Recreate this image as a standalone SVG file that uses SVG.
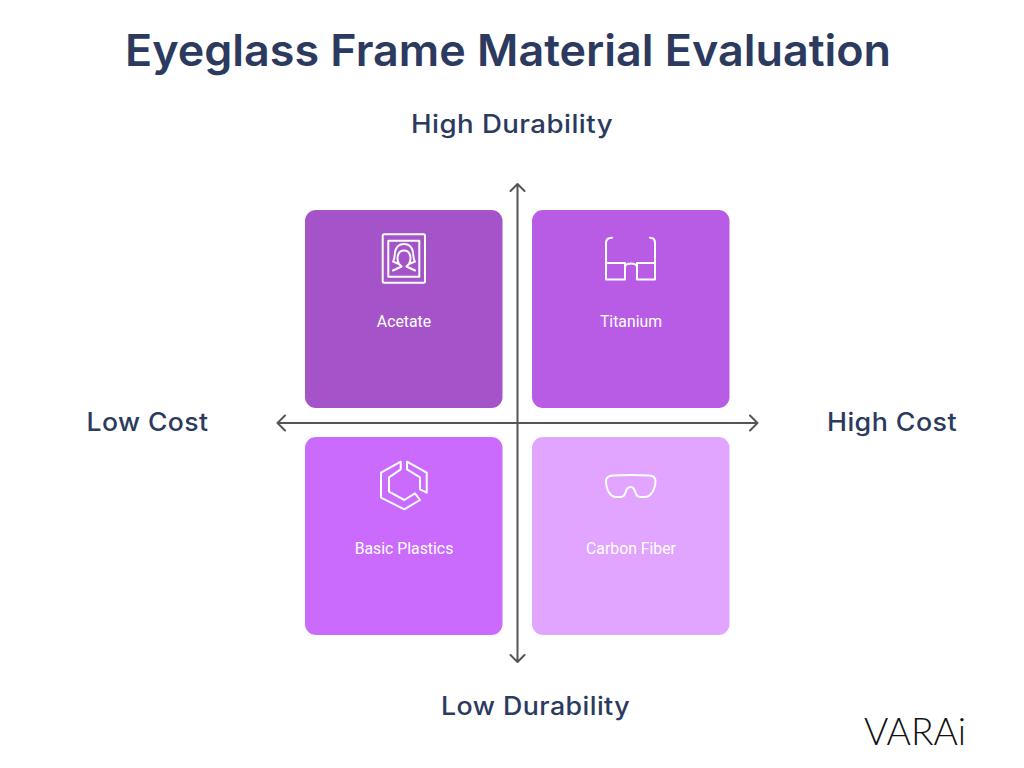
<svg xmlns="http://www.w3.org/2000/svg" width="1024" height="768" viewBox="0 0 1024 768">
<defs>
<style>
.h{font-family:"Inter","Liberation Sans",sans-serif;font-weight:550;fill:#2b3a5e;text-anchor:middle}
.t{font-weight:600}
.a{font-size:25px;letter-spacing:.4px}
.l{font-family:"Roboto","Liberation Sans",sans-serif;font-size:15.800px;fill:#fff;text-anchor:middle}
.i{fill:none;stroke:#fff;stroke-width:2;stroke-linejoin:round;stroke-linecap:round}
.ax{fill:none;stroke:#555;stroke-width:2;stroke-linecap:round;stroke-linejoin:round}
</style>
</defs>
<rect width="1024" height="768" fill="#fff"/>
<text class="h t" x="508" y="66" font-size="44" textLength="766" lengthAdjust="spacingAndGlyphs">Eyeglass Frame Material Evaluation</text>
<text class="h a" x="512" y="133" textLength="202" lengthAdjust="spacingAndGlyphs">High Durability</text>
<text class="h a" x="535.500" y="715" textLength="189" lengthAdjust="spacingAndGlyphs">Low Durability</text>
<text class="h a" x="147.500" y="431" textLength="122" lengthAdjust="spacingAndGlyphs">Low Cost</text>
<text class="h a" x="892" y="431" textLength="130" lengthAdjust="spacingAndGlyphs">High Cost</text>

<g id="acetate">
<rect x="305" y="210" width="197.500" height="198" rx="11" fill="#a453c8"/>
<rect class="i" x="382.700" y="234.300" width="42.300" height="48.400" rx="1.500"/>
<rect class="i" x="388.300" y="240.700" width="31" height="36"/>
<path class="i" d="M393 261.500C395 259 394.500 256 395 252C396 247 399.500 244 404 244C408.500 244 412 247 413 252C413.500 256 413 259 415 261.500L409 264C411 260 411 257 409.500 254C408.500 251.500 406.500 250.500 404 250.500C401.500 250.500 399.500 251.500 398.500 254C397 257 397 260 399 264ZM399 264L401.500 266.500L393 270.500M409 264L406.500 266.500L415 270.500"/>
<text class="l" x="404" y="327">Acetate</text>
</g>
<g id="titanium">
<rect x="532" y="210" width="197.500" height="198" rx="11" fill="#b85ce5"/>
<path class="i" d="M612 237.700C608 237.700 606 239.500 606 243V279.500H625V263H606M650 237.700C654 237.700 655 239.500 655 243V279.500H637V263H655M625 266.500C626.500 262.500 635.500 262.500 637 266.500"/>
<text class="l" x="631" y="327">Titanium</text>
</g>
<g id="basic-plastics">
<rect x="305" y="437" width="197.500" height="198" rx="11" fill="#cb6bfd"/>
<path class="i" d="M400.700 461.700L381 472.700V497.700L404.300 509.300L420 500L415 493.300L404.300 500L389 491.700V477.300L400.700 469.300Z"/>
<path class="i" d="M407 461.700L426.700 472.700V492.700L420 489.300V477.300L407 469.300Z"/>
<text class="l" x="404" y="554">Basic Plastics</text>
</g>
<g id="carbon-fiber">
<rect x="532" y="437" width="197.500" height="198" rx="11" fill="#e1a4ff"/>
<path class="i" d="M613 475.500C625 474.800 637 474.800 649 475.500C653.500 475.800 655.500 477.500 655.500 481C655.500 486 653 492 650 495C648.500 496.500 647 497 645 497H640C637.500 497 636.500 495.500 635.500 492.500C634.500 489 633 487 630.500 487C628 487 626.500 489 625.500 492.500C624.500 495.500 623.500 497 621 497H616C614 497 612.500 496.500 611 495C608 492 606 486 606 481C606 477.500 608.500 475.800 613 475.500Z"/>
<text class="l" x="631" y="554">Carbon Fiber</text>
</g>
<g id="connectors">
<path class="ax" d="M517.500 184V662M510.500 191L517.500 184L524.500 191M510.500 655L517.500 662L524.500 655"/>
<path class="ax" d="M277.500 423H757.500M285 415.500L277.500 423L285 430.500M750 415.500L757.500 423L750 430.500"/>
</g>
<g id="logo">
<text x="864" y="745" font-family="Lato,'Liberation Sans',sans-serif" font-weight="300" font-size="37" fill="#111" textLength="102" lengthAdjust="spacingAndGlyphs">VARAi</text>
</g>
</svg>
